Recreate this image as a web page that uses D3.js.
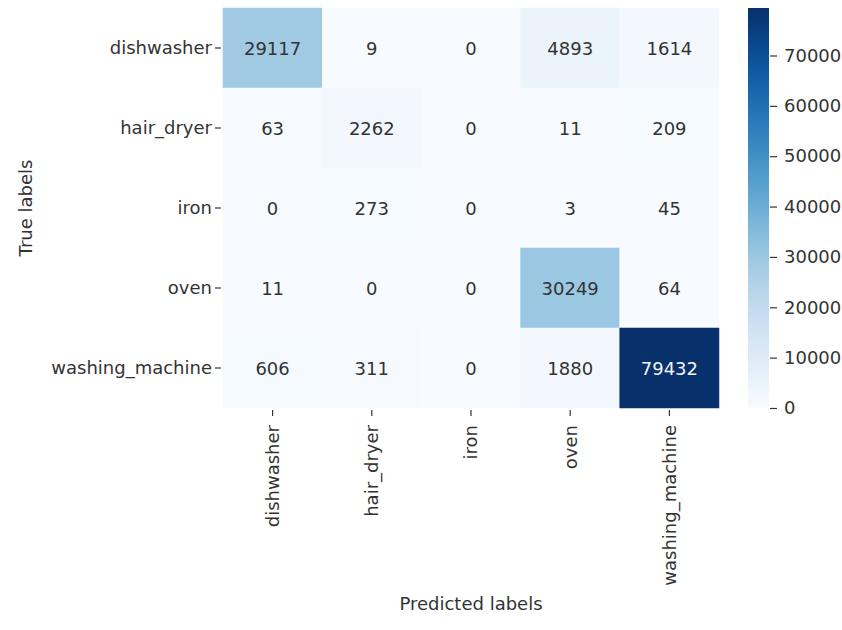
<!DOCTYPE html>
<html>
<head>
<meta charset="utf-8">
<script src="https://cdn.jsdelivr.net/npm/d3@7"></script>
<style>
  html, body { margin: 0; padding: 0; background: #ffffff; }
  svg { display: block; }
  text { font-family: "DejaVu Sans", sans-serif; }
</style>
</head>
<body>
<svg id="chart" width="842" height="630"></svg>
<script>
// Class names (shared by both axes)
const categories = ["dishwasher", "hair_dryer", "iron", "oven", "washing_machine"];

// Confusion-matrix counts, one array per true label
const rowDishwasher     = [29117, 9, 0, 4893, 1614];
const rowHairDryer      = [63, 2262, 0, 11, 209];
const rowIron           = [0, 273, 0, 3, 45];
const rowOven           = [11, 0, 0, 30249, 64];
const rowWashingMachine = [606, 311, 0, 1880, 79432];

// Colour-bar tick values
const colorbarTicks = [0, 10000, 20000, 30000, 40000, 50000, 60000, 70000];

const matrix = [rowDishwasher, rowHairDryer, rowIron, rowOven, rowWashingMachine];

const svg = d3.select("#chart");
const textColor = "#333333";
const fontSize = 18;

// Layout
const plot = { left: 223, right: 719, top: 8, bottom: 408 };
const cbar = { left: 748, right: 769, top: 8, bottom: 408 };

const x = d3.scaleBand().domain(categories).range([plot.left, plot.right]);
const y = d3.scaleBand().domain(categories).range([plot.top, plot.bottom]);

const vmax = d3.max(matrix.flat());
const color = d3.scaleSequential(d3.interpolateBlues).domain([0, vmax]);

const cells = [];
matrix.forEach((row, i) => row.forEach((v, j) => {
  cells.push({ trueLabel: categories[i], predLabel: categories[j], value: v });
}));

// Heatmap cells
svg.append("g")
  .selectAll("rect")
  .data(cells)
  .join("rect")
  .attr("x", d => x(d.predLabel))
  .attr("y", d => y(d.trueLabel))
  .attr("width", x.bandwidth())
  .attr("height", y.bandwidth())
  .attr("fill", d => color(d.value))
  .attr("stroke", d => color(d.value))
  .attr("stroke-width", 0.5);

// Cell annotations: light text on dark cells
function luminance(c) {
  const rgb = d3.rgb(c);
  const f = v => { v /= 255; return v <= 0.03928 ? v / 12.92 : Math.pow((v + 0.055) / 1.055, 2.4); };
  return 0.2126 * f(rgb.r) + 0.7152 * f(rgb.g) + 0.0722 * f(rgb.b);
}
svg.append("g")
  .selectAll("text")
  .data(cells)
  .join("text")
  .attr("x", d => x(d.predLabel) + x.bandwidth() / 2)
  .attr("y", d => y(d.trueLabel) + y.bandwidth() / 2)
  .attr("text-anchor", "middle")
  .attr("dominant-baseline", "central")
  .attr("font-size", fontSize)
  .attr("fill", d => luminance(color(d.value)) > 0.408 ? textColor : "#f4f4f4")
  .text(d => d.value);

// Y axis (true labels)
const yAxis = svg.append("g")
  .attr("transform", `translate(${plot.left - 2},0)`)
  .call(d3.axisLeft(y).tickSize(6).tickPadding(3));
yAxis.select(".domain").remove();
yAxis.selectAll("line").attr("stroke", textColor).attr("stroke-width", 1.2);
yAxis.selectAll("text").attr("font-size", fontSize).attr("fill", textColor)
  .attr("font-family", "DejaVu Sans, sans-serif");

// X axis (predicted labels), rotated tick labels
const xAxis = svg.append("g")
  .attr("transform", `translate(0,${plot.bottom + 2})`)
  .call(d3.axisBottom(x).tickSize(6).tickPadding(4));
xAxis.select(".domain").remove();
xAxis.selectAll("line").attr("stroke", textColor).attr("stroke-width", 1.2);
xAxis.selectAll("text")
  .attr("font-size", fontSize)
  .attr("fill", textColor)
  .attr("font-family", "DejaVu Sans, sans-serif")
  .attr("text-anchor", "end")
  .attr("dy", "0.35em")
  .attr("transform", "translate(0,15) rotate(-90)")
  .attr("x", 0)
  .attr("y", 0);

// Axis titles
svg.append("text")
  .attr("x", (plot.left + plot.right) / 2)
  .attr("y", 610)
  .attr("text-anchor", "middle")
  .attr("font-size", fontSize)
  .attr("fill", textColor)
  .text("Predicted labels");

svg.append("text")
  .attr("transform", `translate(32,${(plot.top + plot.bottom) / 2}) rotate(-90)`)
  .attr("text-anchor", "middle")
  .attr("font-size", fontSize)
  .attr("fill", textColor)
  .text("True labels");

// Colour bar
const defs = svg.append("defs");
const grad = defs.append("linearGradient")
  .attr("id", "cbar-grad")
  .attr("x1", 0).attr("y1", 1).attr("x2", 0).attr("y2", 0);
d3.range(0, 1.0001, 0.02).forEach(t => {
  grad.append("stop").attr("offset", t).attr("stop-color", d3.interpolateBlues(t));
});
svg.append("rect")
  .attr("x", cbar.left)
  .attr("y", cbar.top)
  .attr("width", cbar.right - cbar.left)
  .attr("height", cbar.bottom - cbar.top)
  .attr("fill", "url(#cbar-grad)");

const cScale = d3.scaleLinear().domain([0, vmax]).range([cbar.bottom, cbar.top]);
const cAxis = svg.append("g")
  .attr("transform", `translate(${cbar.right + 1},0)`)
  .call(d3.axisRight(cScale).tickValues(colorbarTicks).tickFormat(d3.format("d")).tickSize(7).tickPadding(7));
cAxis.select(".domain").remove();
cAxis.selectAll("line").attr("stroke", textColor).attr("stroke-width", 1.2);
cAxis.selectAll("text").attr("font-size", fontSize).attr("fill", textColor)
  .attr("font-family", "DejaVu Sans, sans-serif");
</script>
</body>
</html>
